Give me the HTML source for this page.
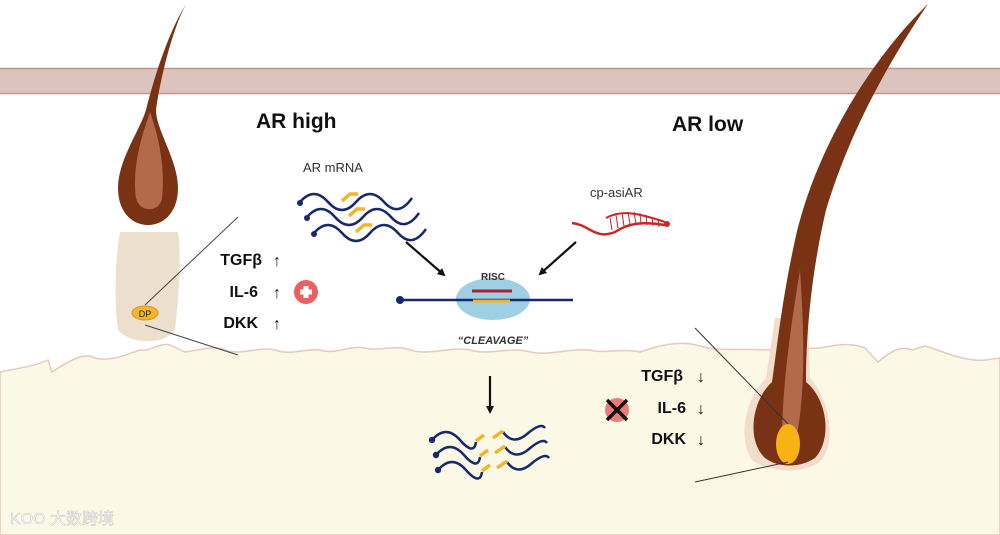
<!DOCTYPE html>
<html><head><meta charset="utf-8"><style>
html,body{margin:0;padding:0;background:#fff;}
svg{display:block;}
text{font-family:"Liberation Sans",sans-serif;}
</style></head><body>
<svg width="1000" height="535" viewBox="0 0 1000 535" xmlns="http://www.w3.org/2000/svg">
<defs>
<marker id="ah" markerWidth="8" markerHeight="8" refX="6" refY="4" orient="auto" markerUnits="userSpaceOnUse"><path d="M0,0 L8,4 L0,8 z" fill="#111"/></marker>
</defs>
<rect width="1000" height="535" fill="#fff"/>
<rect x="0" y="68" width="1000" height="26" fill="#dcc3be"/>
<line x1="0" y1="68.5" x2="1000" y2="68.5" stroke="#c4968c" stroke-width="1.5"/>
<line x1="0" y1="93.5" x2="1000" y2="93.5" stroke="#c4968c" stroke-width="1.5"/>
<path d="M0,372 C20,368 35,366 48,360 L52,372 C70,360 85,352 95,358 C110,362 125,355 140,350 C150,352 160,342 170,345 L185,352 C200,350 215,345 225,350 C240,356 260,346 275,350 C290,356 305,348 320,350 C335,355 350,345 365,348 C380,352 395,344 410,350 C430,356 450,346 470,350 C490,356 510,346 530,352 C550,356 570,348 590,350 C605,354 620,348 640,352 C660,345 680,340 700,346 C720,352 740,348 760,350 L820,348 C835,345 850,342 865,348 L878,362 C890,352 900,345 912,350 L925,346 C945,352 965,362 985,360 L1000,358 L1000,535 L0,535 Z" fill="#fbf8e6" stroke="#e6c9c2" stroke-width="1.5"/>
<!-- left hair -->
<path d="M186,4 C172,30 160,80 156,110 C156,130 178,160 178,188 C178,212 164,225 148,225 C132,225 118,212 118,188 C118,160 140,130 146,110 C156,70 170,30 186,4 Z" fill="#7a3214"/>
<path d="M150,112 C160,140 165,170 162,198 C160,212 140,214 136,198 C132,170 140,140 150,112 Z" fill="#b36a4c"/>
<path d="M120,232 L178,232 C182,260 178,300 175,330 C165,345 130,345 118,330 C114,300 115,260 120,232 Z" fill="#ecdfcb"/>
<ellipse cx="145" cy="313" rx="13" ry="7" fill="#f3b623" stroke="#d9961a"/>
<text x="145" y="317" font-size="9" text-anchor="middle" fill="#222">DP</text>
<line x1="145" y1="305" x2="238" y2="217" stroke="#444" stroke-width="1"/>
<line x1="145" y1="325" x2="238" y2="355" stroke="#444" stroke-width="1"/>
<!-- right hair -->
<path d="M775,318 L808,318 L810,378 C830,400 836,440 822,460 C808,474 768,474 752,460 C738,440 744,400 766,378 Z" fill="#f2ddcc"/>
<path d="M928,4 C870,60 815,150 795,240 C782,300 778,340 772,382 C752,400 746,440 765,458 C778,468 800,468 815,458 C832,440 828,400 806,382 C806,330 812,270 826,210 C850,130 890,60 928,4 Z" fill="#7a3214"/>
<path d="M800,270 C804,330 806,390 796,440 C792,450 784,450 782,440 C782,390 790,330 800,270 Z" fill="#b36a4c"/>
<ellipse cx="788" cy="444" rx="12" ry="20" fill="#f7b314"/>
<line x1="695" y1="328" x2="788" y2="424" stroke="#333" stroke-width="1"/>
<line x1="695" y1="482" x2="788" y2="462" stroke="#333" stroke-width="1"/>
<text x="256" y="128" font-size="21" font-weight="bold" fill="#111">AR high</text>
<text x="672" y="131" font-size="21" font-weight="bold" fill="#111">AR low</text>
<text x="303" y="172" font-size="13" fill="#333">AR mRNA</text>
<text x="590" y="197" font-size="13" fill="#333">cp-asiAR</text>
<g fill="none" stroke="#17296b" stroke-width="2.5">
<path d="M300,202 q14,-16 28,0 t28,0 t28,0 t28,-4"/>
<path d="M307,217 q14,-16 28,0 t28,0 t28,0 t28,-4"/>
<path d="M314,233 q14,-16 28,0 t28,0 t28,0 t28,-4"/>
</g>
<g stroke="#f1b52b" stroke-width="3.5" fill="none">
<path d="M342,201 l8,-7 l8,0"/><path d="M349,216 l8,-7 l8,0"/><path d="M356,232 l8,-7 l8,0"/>
</g>
<g fill="#17296b"><circle cx="300" cy="203" r="3"/><circle cx="307" cy="218" r="3"/><circle cx="314" cy="234" r="3"/></g>
<path d="M572,223 C590,225 595,240 615,232 C630,222 645,222 665,225" fill="none" stroke="#c62828" stroke-width="2.5"/>
<path d="M606,218 C620,210 635,212 665,222" fill="none" stroke="#c62828" stroke-width="2"/>
<g stroke="#c62828" stroke-width="1">
<line x1="610" y1="218" x2="612" y2="230"/><line x1="616" y1="215" x2="618" y2="228"/><line x1="622" y1="213" x2="624" y2="226"/><line x1="628" y1="212" x2="630" y2="224"/><line x1="634" y1="212" x2="636" y2="224"/><line x1="640" y1="213" x2="641" y2="224"/><line x1="646" y1="215" x2="647" y2="225"/><line x1="652" y1="217" x2="653" y2="226"/><line x1="658" y1="219" x2="659" y2="227"/>
</g>
<circle cx="667" cy="224" r="3" fill="#c62828"/>
<line x1="406" y1="242" x2="444" y2="275" stroke="#111" stroke-width="2.2" marker-end="url(#ah)"/>
<line x1="576" y1="242" x2="540" y2="274" stroke="#111" stroke-width="2.2" marker-end="url(#ah)"/>
<line x1="490" y1="376" x2="490" y2="412" stroke="#111" stroke-width="2.2" marker-end="url(#ah)"/>
<ellipse cx="493" cy="299" rx="37" ry="21" fill="#9fcfe3"/>
<text x="493" y="280" font-size="10" font-weight="bold" text-anchor="middle" fill="#333">RISC</text>
<line x1="400" y1="300" x2="573" y2="300" stroke="#17296b" stroke-width="2.5"/>
<circle cx="400" cy="300" r="4" fill="#17296b"/>
<line x1="473" y1="301" x2="510" y2="301" stroke="#f1b52b" stroke-width="3"/>
<line x1="472" y1="291" x2="512" y2="291" stroke="#b01e3a" stroke-width="3"/>
<text x="493" y="344" font-size="11" font-weight="bold" font-style="italic" text-anchor="middle" fill="#333">“CLEAVAGE”</text>
<g fill="none" stroke="#17296b" stroke-width="2.5">
<path d="M432,440 q14,-16 28,0 t16,2"/><path d="M436,455 q14,-16 28,0 t16,2"/><path d="M438,470 q14,-16 28,0 t16,2"/>
<path d="M503,432 q10,14 24,2 t18,-6"/><path d="M505,447 q10,14 24,2 t18,-6"/><path d="M507,462 q10,14 24,2 t18,-6"/>
</g>
<g stroke="#f1b52b" stroke-width="3.5" fill="none">
<path d="M476,441 l8,-6"/><path d="M480,456 l8,-6"/><path d="M482,471 l8,-6"/>
<path d="M493,438 l10,-7"/><path d="M495,453 l10,-7"/><path d="M497,468 l10,-7"/>
</g>
<g fill="#17296b"><circle cx="432" cy="440" r="3.2"/><circle cx="436" cy="455" r="3.2"/><circle cx="438" cy="470" r="3.2"/></g>
<g font-size="16" font-weight="bold" fill="#111" text-anchor="end">
<text x="262" y="265">TGFβ</text><text x="258" y="297">IL-6</text><text x="258" y="328">DKK</text>
</g>
<g font-size="16" fill="#111"><text x="273" y="266">↑</text><text x="273" y="298">↑</text><text x="273" y="329">↑</text></g>
<circle cx="306" cy="292" r="12" fill="#ec5f60"/>
<rect x="300" y="289.5" width="12" height="5" fill="#fff"/><rect x="303.5" y="286" width="5" height="12" fill="#fff"/>
<g font-size="16" font-weight="bold" fill="#111" text-anchor="end">
<text x="683" y="381">TGFβ</text><text x="686" y="413">IL-6</text><text x="686" y="444">DKK</text>
</g>
<g font-size="16" fill="#111"><text x="697" y="382">↓</text><text x="697" y="414">↓</text><text x="697" y="445">↓</text></g>
<circle cx="617" cy="410" r="12" fill="#ec7b78"/>
<path d="M607,400 L627,420 M627,400 L607,420" stroke="#111" stroke-width="3.5"/>
<text x="10" y="524" font-size="16" fill="#fff" stroke="#ccc" stroke-width="0.6" font-family="'Liberation Sans','Noto Sans CJK SC',sans-serif">KOO 大数跨境</text>
</svg>
</body></html>
